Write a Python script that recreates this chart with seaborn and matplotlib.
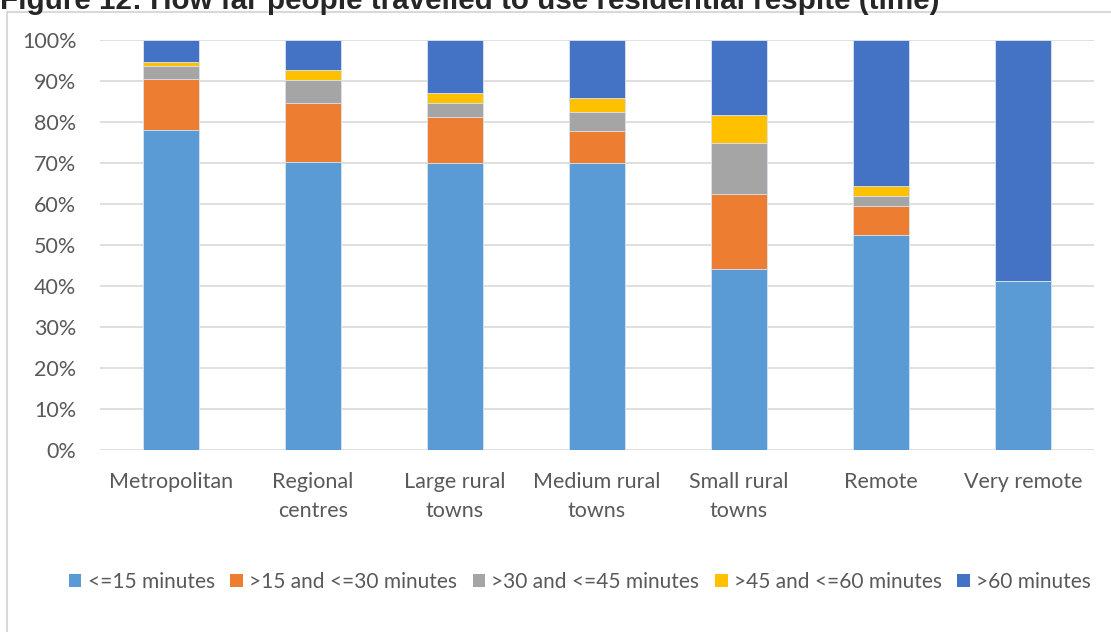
import matplotlib
matplotlib.use("Agg")
from matplotlib import pyplot as plt
from matplotlib.patches import Patch, Rectangle
from matplotlib.ticker import FuncFormatter
import pandas as pd
import seaborn as sns

# data (percent of people per area type)
categories = ["Metropolitan", "Regional\ncentres", "Large rural\ntowns", "Medium rural\ntowns",
              "Small rural\ntowns", "Remote", "Very remote"]
le15 = [78.1, 70.2, 69.9, 69.9, 44.1, 52.4, 41.2]
m15_30 = [12.4, 14.4, 11.2, 7.9, 18.4, 7.2, 0.0]
m30_45 = [3.2, 5.6, 3.5, 4.6, 12.4, 2.3, 0.0]
m45_60 = [0.9, 2.5, 2.5, 3.5, 6.8, 2.5, 0.0]
gt60 = [5.4, 7.3, 12.9, 14.1, 18.3, 35.6, 58.8]

series_names = ["<=15 minutes", ">15 and <=30 minutes", ">30 and <=45 minutes",
                ">45 and <=60 minutes", ">60 minutes"]
colors = ["#5B9BD5", "#ED7D31", "#A5A5A5", "#FFC000", "#4472C4"]

df = pd.DataFrame({"area": categories, series_names[0]: le15, series_names[1]: m15_30,
                   series_names[2]: m30_45, series_names[3]: m45_60, series_names[4]: gt60})
cum = df[series_names].cumsum(axis=1)

sns.set_style("white")
plt.rcParams["font.family"] = ["Lato", "DejaVu Sans"]

fig = plt.figure(figsize=(11.11, 6.32), dpi=100)
ax = fig.add_axes([100 / 1111, 1 - 450 / 632, 994 / 1111, 410 / 632])

# stacked bars: draw the tallest cumulative first, smaller ones over it
for name, col in reversed(list(zip(series_names, colors))):
    sns.barplot(x=df["area"], y=cum[name], color=col, width=0.4, saturation=1,
                edgecolor="#dce6f2", linewidth=0.6, ax=ax)

ax.set_ylim(0, 100)
ax.set_yticks(range(0, 101, 10))
ax.yaxis.set_major_formatter(FuncFormatter(lambda v, p: f"{v:.0f}%"))
ax.set_xlabel("")
ax.set_ylabel("")
ax.grid(axis="y", color="#d9d9d9", linewidth=1.2)
ax.set_axisbelow(True)
sns.despine(ax=ax, left=True, bottom=True)
ax.tick_params(axis="both", length=0, colors="#595959", labelsize=15.5)
ax.tick_params(axis="y", pad=17)
ax.tick_params(axis="x", pad=16)
for t in ax.get_xticklabels():
    t.set_linespacing(1.55)

handles = [Patch(facecolor=c, edgecolor="none") for c in colors]
leg = fig.legend(handles, series_names, loc="center", bbox_to_anchor=(0.522, 1 - 582 / 632),
                 ncol=5, frameon=False, fontsize=15, handlelength=0.6, handleheight=0.6,
                 handletextpad=0.3, columnspacing=0.75)
for t in leg.get_texts():
    t.set_color("#595959")

# chart frame, cut off at the right and bottom like the source image
fig.patches.append(Rectangle((7 / 1111, -0.05), 1.1, 1 - 12 / 632 + 0.05, transform=fig.transFigure,
                             facecolor="none", edgecolor="#d9d9d9", linewidth=1.5))

fig.text(0.0, 1 - 9 / 632, "Figure 12: How far people travelled to use residential respite (time)",
         fontsize=21.3, fontweight="bold", family="Liberation Sans", va="baseline", ha="left")

fig.savefig("out.png", dpi=100)
